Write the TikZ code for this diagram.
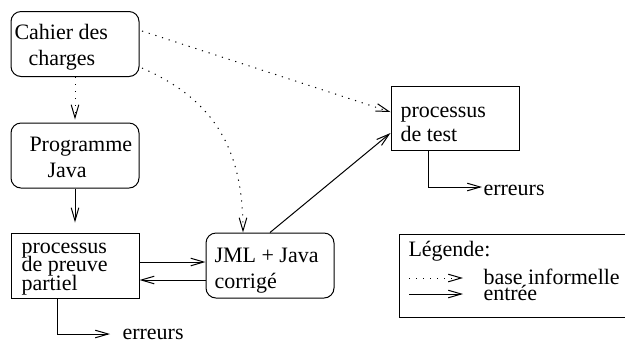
\documentclass[tikz,border=0pt]{standalone}
\usepackage{fontspec}
\setmainfont{Liberation Serif}
\usetikzlibrary{arrows.meta}
\begin{document}
\begin{tikzpicture}[x=0.5pt,y=-0.5pt,
  line width=0.5pt,
  >={Straight Barb[length=6.5pt,width=3.8pt,line width=0.5pt]},
  rbox/.style={draw,rounded corners=5pt,minimum width=64pt,minimum height=32.5pt,inner sep=0pt},
  sbox/.style={draw,minimum width=64pt,minimum height=32.5pt,inner sep=0pt},
  txt/.style={anchor=base west,inner sep=0pt,font=\fontsize{11}{13}\selectfont},
  dot/.style={dash pattern=on 0.6pt off 2.9pt},
  conn/.style={->}]
\useasboundingbox (0,0) rectangle (625,345);
% boxes
\node[rbox] (cahier) at (75,44) {};
\node[rbox] (prog) at (75,155.5) {};
\node[sbox] (preuve) at (75,265.5) {};
\node[rbox] (jml) at (270,265.5) {};
\node[sbox,minimum height=32pt] (test) at (455,118) {};
\node[draw,minimum width=114.5pt,minimum height=41.5pt,inner sep=0pt] (legend) at (513.5,275.5) {};
% texts
\node[txt] (t1) at (14,39) {Cahier des};
\node[txt] (t2) at (28,65) {charges};
\node[txt] (t3) at (29,151) {Programme};
\node[txt] (t4) at (47,177) {Java};
\node[txt] (t5) at (21,253) {processus};
\node[txt] (t6) at (21,271) {de preuve};
\node[txt] (t7) at (21,290) {partiel};
\node[txt] (t8) at (214,262) {JML + Java};
\node[txt] (t9) at (214,288) {corrigé};
\node[txt] (t10) at (400,117) {processus};
\node[txt] (t11) at (400,141) {de test};
\node[txt] (e1) at (122,339) {erreurs};
\node[txt] (e2) at (483,195) {erreurs};
\node[txt] (l1) at (408,256) {Légende:};
\node[txt] (l2) at (483,284) {base informelle};
\node[txt] (l3) at (483,300) {entrée};
% connectors
\draw[conn,dot,shorten >=1.5pt] (cahier.south) -- (prog.north);
\draw[conn,shorten >=5pt] (prog.south) -- (preuve.north);
\draw[conn] (preuve.east |- 0,262) -- (jml.west |- 0,262);
\draw[conn] (jml.west |- 0,280) -- (preuve.east |- 0,280);
\draw[conn,dot] (142,31) -- (test.west |- 0,112);
\draw[conn,dot] (142,68) .. controls (215,100) and (243,150) .. (jml.north -| 243,0);
\draw[conn] (jml.north -| 270,0) -- (test.west |- 0,133);
\coordinate (c1) at (110,334);
\draw[conn] (preuve.south -| 57,0) |- (c1);
\coordinate (c2) at (482,187);
\draw[conn] (test.south -| 428,0) |- (c2);
\coordinate (la) at (409,278);
\coordinate (lb) at (463,278);
\coordinate (lc) at (409,294);
\coordinate (ld) at (463,294);
\draw[conn,dot] (la) -- (lb);
\draw[conn] (lc) -- (ld);
\end{tikzpicture}
\end{document}
